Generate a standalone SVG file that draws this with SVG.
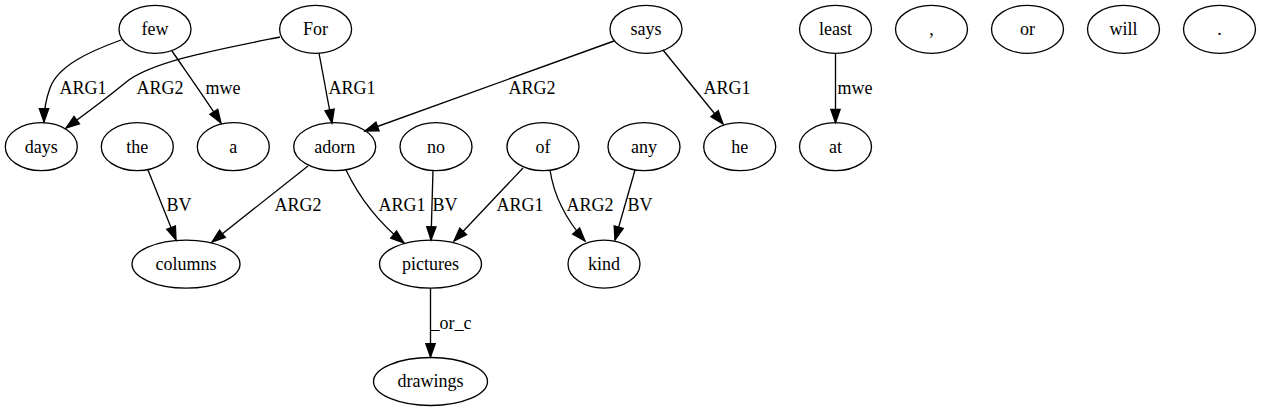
<svg xmlns="http://www.w3.org/2000/svg" width="1261" height="411" viewBox="0 0 1261 411">
<style>
.n ellipse{fill:none;stroke:#000;stroke-width:1.33}
text{font-family:"Liberation Serif","Times New Roman",serif;font-size:18px;fill:#000;text-anchor:middle}
.e path{fill:none;stroke:#000;stroke-width:1.33;marker-end:url(#ah)}
</style>
<defs>
<marker id="ah" markerUnits="userSpaceOnUse" markerWidth="14" markerHeight="10" refX="13.3" refY="4.67" orient="auto" overflow="visible">
<path d="M0,0 L13.3,4.67 L0,9.33 Z" fill="#000" stroke="#000" stroke-width="1.33"/>
</marker>
</defs>
<rect width="1261" height="411" fill="#fff"/>
<g id="connectors" class="e">
<path d="M121,40 C88,52 58,66 50,88 C46,99 44,110 44,122"/>
<path d="M280,37 C215,50 150,62 125,83 C108,97 88,112 66,128"/>
<path d="M172,51 C185,70 205,98 221,123"/>
<path d="M319,53 L332,123"/>
<path d="M614,41 L365,131"/>
<path d="M663,50 L723,124"/>
<path d="M835.5,53.3 L835.5,122.7"/>
<path d="M148,170 L176,240"/>
<path d="M308,166 L212,242"/>
<path d="M346,170 C358,195 378,222 404,243"/>
<path d="M433,170 L431,240"/>
<path d="M523,168 L454,241"/>
<path d="M550,170 C553,190 562,215 585,241"/>
<path d="M635,170 L615,240"/>
<path d="M430.5,288 L430.5,357"/>
<text x="83" y="94">ARG1</text>
<text x="160" y="94">ARG2</text>
<text x="223" y="94">mwe</text>
<text x="352" y="94">ARG1</text>
<text x="532" y="94">ARG2</text>
<text x="727" y="94">ARG1</text>
<text x="855" y="94">mwe</text>
<text x="179" y="211">BV</text>
<text x="298" y="211">ARG2</text>
<text x="402" y="211">ARG1</text>
<text x="445" y="211">BV</text>
<text x="520" y="211">ARG1</text>
<text x="590" y="211">ARG2</text>
<text x="640" y="211">BV</text>
<text x="451" y="329">_or_c</text>
</g>
<g id="node-few" class="n"><ellipse cx="155" cy="29.3" rx="36" ry="24"/><text x="155" y="35">few</text></g>
<g id="node-For" class="n"><ellipse cx="315.6" cy="29.3" rx="36" ry="24"/><text x="315.6" y="35">For</text></g>
<g id="node-says" class="n"><ellipse cx="646" cy="29.3" rx="36" ry="24"/><text x="646" y="35">says</text></g>
<g id="node-least" class="n"><ellipse cx="835.5" cy="29.3" rx="36" ry="24"/><text x="835.5" y="35">least</text></g>
<g id="node-comma" class="n"><ellipse cx="931.5" cy="29.3" rx="36" ry="24"/><text x="931.5" y="35">,</text></g>
<g id="node-or" class="n"><ellipse cx="1027.5" cy="29.3" rx="36" ry="24"/><text x="1027.5" y="35">or</text></g>
<g id="node-will" class="n"><ellipse cx="1123.5" cy="29.3" rx="36" ry="24"/><text x="1123.5" y="35">will</text></g>
<g id="node-period" class="n"><ellipse cx="1219.5" cy="29.3" rx="36" ry="24"/><text x="1219.5" y="35">.</text></g>
<g id="node-days" class="n"><ellipse cx="41.3" cy="146.7" rx="36" ry="24"/><text x="41.3" y="152.5">days</text></g>
<g id="node-the" class="n"><ellipse cx="137.3" cy="146.7" rx="36" ry="24"/><text x="137.3" y="152.5">the</text></g>
<g id="node-a" class="n"><ellipse cx="233.3" cy="146.7" rx="36" ry="24"/><text x="233.3" y="152.5">a</text></g>
<g id="node-adorn" class="n"><ellipse cx="334.7" cy="146.7" rx="41" ry="24"/><text x="334.7" y="152.5">adorn</text></g>
<g id="node-no" class="n"><ellipse cx="436" cy="146.7" rx="36" ry="24"/><text x="436" y="152.5">no</text></g>
<g id="node-of" class="n"><ellipse cx="543" cy="146.7" rx="36" ry="24"/><text x="543" y="152.5">of</text></g>
<g id="node-any" class="n"><ellipse cx="644" cy="146.7" rx="36" ry="24"/><text x="644" y="152.5">any</text></g>
<g id="node-he" class="n"><ellipse cx="739.7" cy="146.7" rx="36" ry="24"/><text x="739.7" y="152.5">he</text></g>
<g id="node-at" class="n"><ellipse cx="835.5" cy="146.7" rx="36" ry="24"/><text x="835.5" y="152.5">at</text></g>
<g id="node-columns" class="n"><ellipse cx="186" cy="264.1" rx="54" ry="24"/><text x="186" y="270">columns</text></g>
<g id="node-pictures" class="n"><ellipse cx="430.5" cy="264.1" rx="51" ry="24"/><text x="430.5" y="270">pictures</text></g>
<g id="node-kind" class="n"><ellipse cx="604" cy="264.1" rx="36" ry="24"/><text x="604" y="270">kind</text></g>
<g id="node-drawings" class="n"><ellipse cx="430.5" cy="381.5" rx="57" ry="24"/><text x="430.5" y="387.3">drawings</text></g>
</svg>
